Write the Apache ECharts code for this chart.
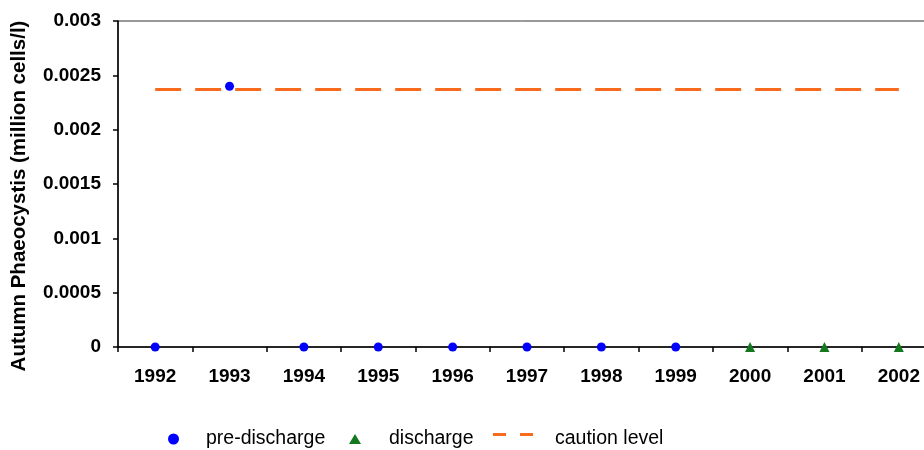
<!DOCTYPE html>
<html><head><meta charset="utf-8">
<script src="https://cdn.jsdelivr.net/npm/echarts@6/dist/echarts.min.js"></script>
<style>html,body{margin:0;padding:0;background:#fff}#c{width:924px;height:450px}</style>
</head><body><div id="c"></div>
<script>
const years = ['1992','1993','1994','1995','1996','1997','1998','1999','2000','2001','2002'];
const preDischarge = [0, 0.0024, 0, 0, 0, 0, 0, 0, null, null, null];
const discharge = [null, null, null, null, null, null, null, null, 0, 0, 0];
const cautionLevel = [0.00237, 0.00237, 0.00237, 0.00237, 0.00237, 0.00237, 0.00237, 0.00237, 0.00237, 0.00237, 0.00237];
const yTicks = ['0', '0.0005', '0.001', '0.0015', '0.002', '0.0025', '0.003'];
const yName = 'Autumn Phaeocystis (million cells/l)';

const chart = echarts.init(document.getElementById('c'));
const font = 'Liberation Sans, Arial, sans-serif';
const legendText = { fontFamily: font, fontSize: 19.5, color: '#000' };
chart.setOption({
  animation: false,
  grid: { left: 118, top: 21, width: 818, height: 326, outerBoundsMode: 'none', containLabel: false,
          show: true, borderColor: '#333', borderWidth: 1, backgroundColor: '#fff' },
  legend: [
    { data: ['pre-discharge'], icon: 'circle', left: 168, top: 429, padding: 0, itemWidth: 11, itemHeight: 11,
      textStyle: Object.assign({ padding: [0, 0, 0, 22] }, legendText) },
    { data: ['discharge'], icon: 'triangle', left: 349, top: 429, padding: 0, itemWidth: 12, itemHeight: 10,
      textStyle: Object.assign({ padding: [0, 0, 0, 23] }, legendText) },
    { data: ['caution level'], icon: 'path://M0,0H13V3H0Z M27,0H40V3H27Z M0,11.99H0.01V12H0Z', left: 493, top: 429, padding: 0,
      itemWidth: 40, itemHeight: 12,
      textStyle: Object.assign({ padding: [0, 0, 0, 17] }, legendText) }
  ],
  graphic: [{
    type: 'text', x: 19, y: 196, rotation: Math.PI / 2,
    style: { text: yName, font: 'bold 20.5px Liberation Sans, Arial, sans-serif', fill: '#000',
             align: 'center', verticalAlign: 'middle' }
  }],
  xAxis: {
    type: 'category', data: years, boundaryGap: true,
    axisLine: { lineStyle: { color: '#000', width: 1.5 } },
    axisTick: { show: true, inside: false, length: 5, lineStyle: { color: '#000', width: 1.5 } },
    axisLabel: { fontFamily: font, fontWeight: 'bold', fontSize: 19, color: '#000', margin: 20, interval: 0 },
    splitLine: { show: false }
  },
  yAxis: {
    type: 'value', min: 0, max: 0.003, interval: 0.0005,
    axisLine: { show: true, lineStyle: { color: '#000', width: 1.5 } },
    axisTick: { show: true, length: 5, lineStyle: { color: '#000', width: 1.5 } },
    axisLabel: { fontFamily: font, fontWeight: 'bold', fontSize: 19, color: '#000', margin: 17,
      formatter: v => yTicks[Math.round(v / 0.0005)] },
    splitLine: { show: false }
  },
  series: [
    { name: 'caution level', type: 'line', data: cautionLevel, symbol: 'none',
      lineStyle: { color: '#F86A1E', width: 3, type: [26, 14], cap: 'butt' }, itemStyle: { color: '#F86A1E' }, z: 2 },
    { name: 'pre-discharge', type: 'scatter', data: preDischarge, symbol: 'circle', symbolSize: 9,
      itemStyle: { color: '#0000FF', opacity: 1 }, z: 3 },
    { name: 'discharge', type: 'scatter', data: discharge, symbol: 'triangle', symbolSize: 10,
      itemStyle: { color: '#14781E', opacity: 1 }, z: 3 }
  ]
});
</script></body></html>
